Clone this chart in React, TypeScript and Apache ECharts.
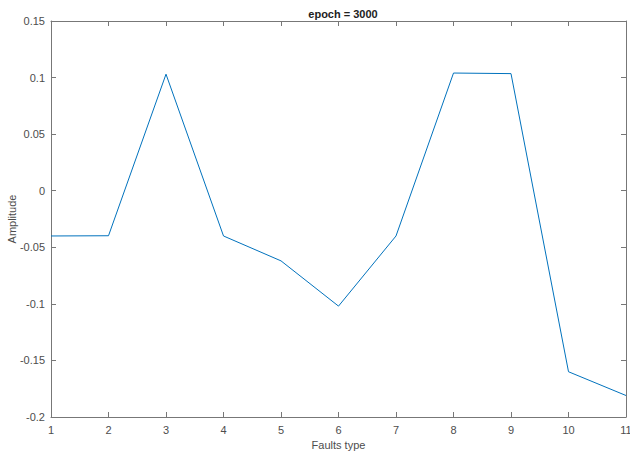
import React, { useEffect, useRef } from "react";
import * as echarts from "echarts";

const faultTypes = [1, 2, 3, 4, 5, 6, 7, 8, 9, 10, 11];
const amplitude = [-0.040, -0.0398, 0.103, -0.040, -0.062, -0.102, -0.040, 0.104, 0.1035, -0.160, -0.181];
const titleText = "epoch = 3000";
const xName = "Faults type";
const yName = "Amplitude";

export default function App() {
  const ref = useRef<HTMLDivElement>(null);
  useEffect(() => {
    if (!ref.current) return;
    const chart = echarts.init(ref.current, null, { renderer: "svg" });
    const axisColor = "#777777";
    const textColor = "#4d4d4d";
    const font = "Liberation Sans, Arial, Helvetica, sans-serif";
    const fmt = (v: number) => String(parseFloat(v.toFixed(2)));
    chart.setOption({
      animation: false,
      backgroundColor: "#ffffff",
      title: {
        text: titleText,
        left: 338,
        top: 3,
        textAlign: "center",
        textStyle: { fontSize: 11, fontWeight: "bold", color: "#222222", fontFamily: font },
      },
      grid: { left: 51, top: 21, right: 4, bottom: 37, containLabel: false, outerBoundsMode: "none" },
      xAxis: [
        {
          type: "value",
          min: 1,
          max: 11,
          interval: 1,
          position: "bottom",
          name: xName,
          nameLocation: "middle",
          nameGap: 22,
          nameMoveOverlap: false,
          nameTextStyle: { fontSize: 11, color: textColor, fontFamily: font },
          axisLine: { show: true, onZero: false, lineStyle: { color: axisColor, width: 1 } },
          axisTick: { show: true, inside: true, length: 5, lineStyle: { color: axisColor } },
          axisLabel: { fontSize: 11, color: textColor, fontFamily: font, margin: 7 },
          splitLine: { show: false },
        },
        {
          type: "value",
          min: 1,
          max: 11,
          interval: 1,
          position: "top",
          axisLine: { show: true, onZero: false, lineStyle: { color: axisColor, width: 1 } },
          axisTick: { show: true, inside: true, length: 5, lineStyle: { color: axisColor } },
          axisLabel: { show: false },
          splitLine: { show: false },
        },
      ],
      yAxis: [
        {
          type: "value",
          min: -0.2,
          max: 0.15,
          interval: 0.05,
          position: "left",
          name: yName,
          nameLocation: "middle",
          nameGap: 34,
          nameMoveOverlap: false,
          nameTextStyle: { fontSize: 11, color: textColor, fontFamily: font },
          axisLine: { show: true, onZero: false, lineStyle: { color: axisColor, width: 1 } },
          axisTick: { show: true, inside: true, length: 5, lineStyle: { color: axisColor } },
          axisLabel: { fontSize: 11, color: textColor, fontFamily: font, margin: 6, formatter: fmt },
          splitLine: { show: false },
        },
        {
          type: "value",
          min: -0.2,
          max: 0.15,
          interval: 0.05,
          position: "right",
          axisLine: { show: true, onZero: false, lineStyle: { color: axisColor, width: 1 } },
          axisTick: { show: true, inside: true, length: 5, lineStyle: { color: axisColor } },
          axisLabel: { show: false },
          splitLine: { show: false },
        },
      ],
      series: [
        {
          type: "line",
          data: faultTypes.map((x, i) => [x, amplitude[i]]),
          xAxisIndex: 0,
          yAxisIndex: 0,
          showSymbol: false,
          symbol: "none",
          lineStyle: { color: "#0072BD", width: 1 },
        },
      ],
    });
    return () => chart.dispose();
  }, []);
  return <div ref={ref} style={{ width: 630, height: 454, position: "absolute", left: 0, top: 0 }} />;
}
